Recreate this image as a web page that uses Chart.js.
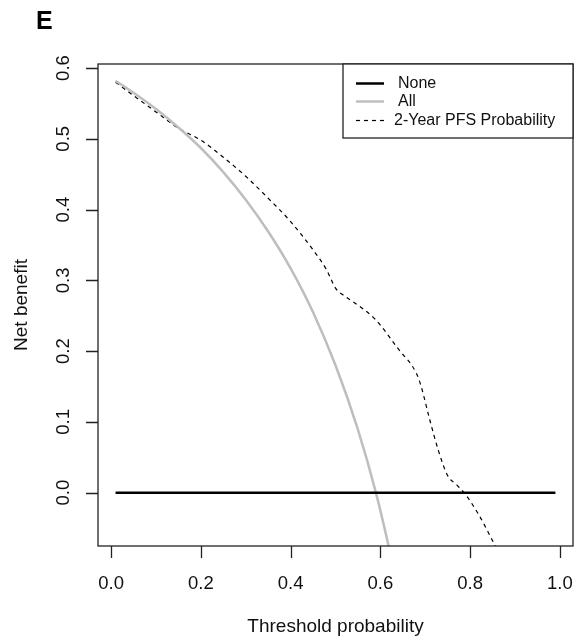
<!DOCTYPE html>
<html>
<head>
<meta charset="utf-8">
<script src="https://cdn.jsdelivr.net/npm/chart.js@4"></script>
<style>
html,body{margin:0;padding:0;background:#fff;}
#wrap{width:588px;height:642px;}
</style>
</head>
<body>
<div id="wrap"><canvas id="c" width="588" height="642"></canvas></div>
<script>
// ---- data ----
const panelLabel = "E";
const xTicks = [0.0, 0.2, 0.4, 0.6, 0.8, 1.0];
const yTicks = [0.0, 0.1, 0.2, 0.3, 0.4, 0.5, 0.6];
const xTitle = "Threshold probability";
const yTitle = "Net benefit";
const seriesNames = ["None", "All", "2-Year PFS Probability"];

const noneX = [0.01, 0.99];
const noneY = [0, 0];

const allX = [0.01, 0.05, 0.10, 0.15, 0.20, 0.25, 0.30, 0.35, 0.40, 0.45, 0.50, 0.55, 0.59, 0.62, 0.65];
const allY = [0.582, 0.565, 0.542, 0.516, 0.487, 0.453, 0.414, 0.369, 0.317, 0.255, 0.180, 0.089, 0.000, -0.080, -0.170];

const modelX = [0.01, 0.05, 0.10, 0.15, 0.20, 0.25, 0.30, 0.35, 0.40, 0.45, 0.48, 0.50, 0.52, 0.55, 0.59, 0.64, 0.68, 0.69, 0.71, 0.73, 0.75, 0.77, 0.79, 0.82, 0.85, 0.86];
const modelY = [0.580, 0.561, 0.538, 0.515, 0.498, 0.474, 0.447, 0.416, 0.383, 0.343, 0.315, 0.289, 0.278, 0.265, 0.244, 0.203, 0.169, 0.152, 0.103, 0.058, 0.024, 0.011, -0.003, -0.032, -0.068, -0.080];

const toPts = (xs, ys) => xs.map((x, i) => ({x: x, y: ys[i]}));

const FONT = '"Liberation Sans", Arial, sans-serif';

const decor = {
  id: 'decor',
  afterDatasetsDraw(chart) {
    const ctx = chart.ctx;
    const a = chart.chartArea;
    const xs = chart.scales.x, ys = chart.scales.y;
    ctx.save();
    // box
    ctx.strokeStyle = '#222';
    ctx.lineWidth = 1.3;
    ctx.strokeRect(a.left, a.top, a.right - a.left, a.bottom - a.top);
    // x ticks
    ctx.fillStyle = '#111';
    ctx.font = '18.5px ' + FONT;
    ctx.textAlign = 'center';
    ctx.textBaseline = 'middle';
    ctx.beginPath();
    xTicks.forEach(v => {
      const px = Math.round(xs.getPixelForValue(v)) + 0.5;
      ctx.moveTo(px, a.bottom);
      ctx.lineTo(px, a.bottom + 12);
    });
    // y ticks
    yTicks.forEach(v => {
      const py = Math.round(ys.getPixelForValue(v)) + 0.5;
      ctx.moveTo(a.left, py);
      ctx.lineTo(a.left - 12, py);
    });
    ctx.stroke();
    xTicks.forEach(v => {
      ctx.fillText(v.toFixed(1), xs.getPixelForValue(v), 584);
    });
    yTicks.forEach(v => {
      ctx.save();
      ctx.translate(64, ys.getPixelForValue(v));
      ctx.rotate(-Math.PI / 2);
      ctx.fillText(v.toFixed(1), 0, 0);
      ctx.restore();
    });
    // axis titles
    ctx.font = '19px ' + FONT;
    ctx.fillText(xTitle, (a.left + a.right) / 2, 627);
    ctx.save();
    ctx.translate(22, (a.top + a.bottom) / 2);
    ctx.rotate(-Math.PI / 2);
    ctx.fillText(yTitle, 0, 0);
    ctx.restore();
    // panel label
    ctx.font = 'bold 25px ' + FONT;
    ctx.textAlign = 'left';
    ctx.textBaseline = 'alphabetic';
    ctx.fillStyle = '#000';
    ctx.fillText(panelLabel, 36, 29);
    // legend
    const lx = 343, ly = a.top, lw = a.right - 343, lh = 74;
    ctx.fillStyle = '#fff';
    ctx.fillRect(lx, ly, lw, lh);
    ctx.strokeStyle = '#222';
    ctx.lineWidth = 1.3;
    ctx.strokeRect(lx, ly, lw, lh);
    const rows = [
      {y: 83.5, color: '#000', w: 2.5, dash: [], tx: 398},
      {y: 101.5, color: '#bebebe', w: 2.5, dash: [], tx: 398},
      {y: 120.5, color: '#000', w: 1.2, dash: [4, 4], tx: 394}
    ];
    ctx.font = '16px ' + FONT;
    ctx.textBaseline = 'middle';
    rows.forEach((r, i) => {
      ctx.beginPath();
      ctx.strokeStyle = r.color;
      ctx.lineWidth = r.w;
      ctx.setLineDash(r.dash);
      ctx.moveTo(356, r.y);
      ctx.lineTo(384, r.y);
      ctx.stroke();
      ctx.setLineDash([]);
      ctx.fillStyle = '#111';
      ctx.fillText(seriesNames[i], r.tx, r.y);
    });
    ctx.restore();
  }
};

new Chart(document.getElementById('c'), {
  type: 'scatter',
  data: {
    datasets: [
      {label: seriesNames[0], data: toPts(noneX, noneY), showLine: true, borderColor: '#000', borderWidth: 2.5, pointRadius: 0, clip: 0},
      {label: seriesNames[1], data: toPts(allX, allY), showLine: true, borderColor: '#bebebe', borderWidth: 2.5, pointRadius: 0, cubicInterpolationMode: 'monotone', clip: 0},
      {label: seriesNames[2], data: toPts(modelX, modelY), showLine: true, borderColor: '#000', borderWidth: 1.2, borderDash: [4, 4], pointRadius: 0, cubicInterpolationMode: 'monotone', clip: 0}
    ]
  },
  options: {
    responsive: false,
    animation: false,
    devicePixelRatio: 1,
    layout: {padding: {left: 98, right: 15, top: 64, bottom: 96}},
    scales: {
      x: {type: 'linear', min: -0.0292, max: 1.0292, display: false},
      y: {type: 'linear', min: -0.0754, max: 0.6057, display: false}
    },
    plugins: {legend: {display: false}, tooltip: {enabled: false}}
  },
  plugins: [decor]
});
</script>
</body>
</html>
